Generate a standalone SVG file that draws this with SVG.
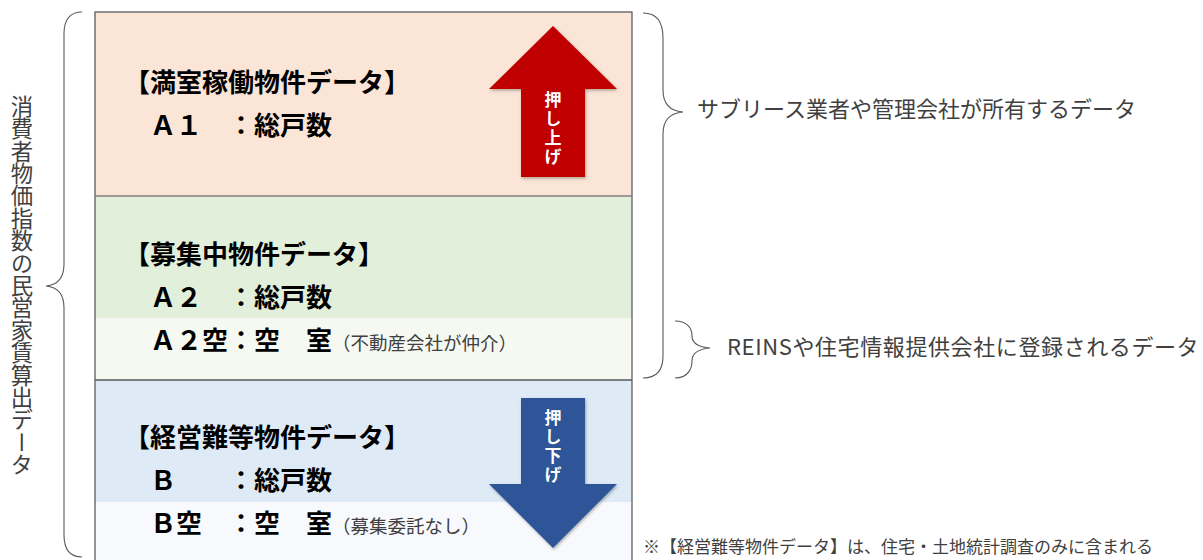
<svg xmlns="http://www.w3.org/2000/svg" width="1203" height="560" viewBox="0 0 1203 560">
<style>
text{font-family:"Noto Sans CJK JP","Noto Sans",sans-serif;}
.h{font-size:26px;font-weight:700;fill:#000;}
.s{font-size:18.5px;font-weight:400;fill:#404040;}
.r{font-size:22px;fill:#404040;}
.at{font-size:17px;font-weight:700;fill:#fff;writing-mode:vertical-rl;letter-spacing:2px;}
.brace{fill:none;stroke:#595959;stroke-width:1.1;}
</style>
<defs>
<filter id="sh" x="-20%" y="-20%" width="140%" height="140%">
<feDropShadow dx="1" dy="1.5" stdDeviation="1.5" flood-color="#000" flood-opacity="0.3"/>
</filter>
</defs>
<rect width="1203" height="560" fill="#fff"/>
<g id="box">
<rect x="95" y="12" width="537" height="184" fill="#FBE5D6"/>
<rect x="95" y="196" width="537" height="122" fill="#E2EFDA"/>
<rect x="95" y="318" width="537" height="62" fill="#F6F9F2"/>
<rect x="95" y="380" width="537" height="122" fill="#DEEBF7"/>
<rect x="95" y="502" width="537" height="70" fill="#F7F9FC"/>
<rect x="95" y="12" width="537" height="560" fill="none" stroke="#505050" stroke-width="1.2"/>
<line x1="95" y1="196" x2="632" y2="196" stroke="#7F7F7F" stroke-width="1.6"/>
<line x1="95" y1="380" x2="632" y2="380" stroke="#595959" stroke-width="1.4"/>
</g>
<g id="full">
<text class="h" x="124" y="92">【満室稼働物件データ】</text>
<text class="h" x="150" y="135">Ａ１　：総戸数</text>
</g>
<g id="recruit">
<text class="h" x="124" y="264">【募集中物件データ】</text>
<text class="h" x="150" y="307">Ａ２　：総戸数</text>
<text class="h" x="150" y="350">Ａ２空：空　室<tspan class="s">（不動産会社が仲介）</tspan></text>
</g>
<g id="hard">
<text class="h" x="124" y="447">【経営難等物件データ】</text>
<text class="h" x="150" y="490">Ｂ　　：総戸数</text>
<text class="h" x="150" y="533">Ｂ空　：空　室<tspan class="s">（募集委託なし）</tspan></text>
</g>
<g id="arrow-up">
<polygon points="553,26 617,89 585,89 585,177 521,177 521,89 489,89" fill="#C00000" filter="url(#sh)"/>
<text class="at" x="553" y="91">押し上げ</text>
</g>
<g id="arrow-down">
<polygon points="521,398 585,398 585,484 617,484 553,548 489,484 521,484" fill="#2F5597" filter="url(#sh)"/>
<text class="at" x="553" y="409">押し下げ</text>
</g>
<g id="connectors">
<path class="brace" d="M82,12 C70,12 64,20 64,34 L64,264 C64,278 58,285 46,286 C58,287 64,294 64,308 L64,535 C64,549 70,557 82,557"/>
<path class="brace" d="M643,13 C657,13 663,22 663,38 L663,90 C663,104 670,111 683,112 C670,113 663,120 663,134 L663,356 C663,370 657,378 643,378"/>
<path class="brace" d="M675,321 C686,321 692,327 692,336 C692,343 698,347 710,348 C698,349 692,353 692,361 C692,371 686,378 675,378"/>
</g>
<g id="left-label">
<text x="22" y="95" style="writing-mode:vertical-rl" font-size="22.4" fill="#404040">消費者物価指数の民営家賃算出データ</text>
</g>
<g id="label-sublease">
<text class="r" x="697" y="117">サブリース業者や管理会社が所有するデータ</text>
</g>
<g id="label-reins">
<text class="r" x="727" y="355" letter-spacing="0.6">REINSや住宅情報提供会社に登録されるデータ</text>
</g>
<g id="note">
<text x="643" y="553" font-size="17" fill="#404040">※【経営難等物件データ】は、住宅・土地統計調査のみに含まれる</text>
</g>
</svg>
